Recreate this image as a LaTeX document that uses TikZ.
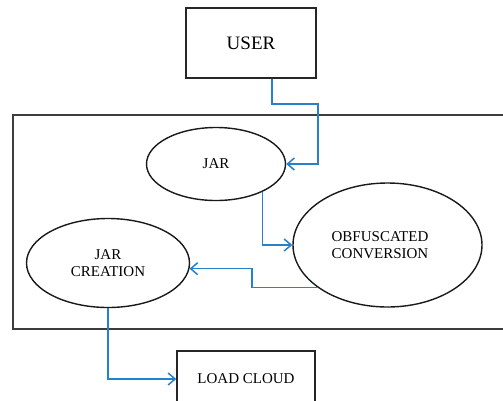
\documentclass[tikz,border=0pt]{standalone}
\usepackage{fontspec}
\setmainfont{Liberation Serif}
\usetikzlibrary{arrows.meta,shapes.geometric}
\definecolor{flowblue}{RGB}{38,128,202}
\definecolor{framegray}{RGB}{60,60,60}
\tikzset{
  box/.style={draw=black!85, line width=1.5pt, rectangle, inner sep=0pt},
  blob/.style={draw=black!90, line width=1.4pt, ellipse, inner sep=0pt},
  bigframe/.style={draw=framegray, line width=2pt, rectangle, inner sep=0pt},
  lbl/.style={font=\fontsize{15}{17}\selectfont, align=center, inner sep=0pt},
  flow/.style={draw=flowblue, line width=1.5pt, -{Straight Barb[length=7pt,width=12pt,line width=1.5pt]}},
}
\begin{document}
\begin{tikzpicture}[x=1pt,y=-1pt]
  \useasboundingbox (0,0) rectangle (503,400);
  \clip (0,0) rectangle (503,400);

  % outer frame holding the processing steps
  \node[bigframe, minimum width=500pt, minimum height=214pt] (frame) at (263,222) {};

  % boxes
  \node[box, minimum width=130pt, minimum height=70pt, font=\fontsize{19}{22}\selectfont] (user) at (251,43) {USER};
  \node[box, minimum width=138pt, minimum height=56pt, font=\fontsize{15}{17}\selectfont] (load) at (246,379) {LOAD CLOUD};

  % ellipses
  \node[blob, minimum width=139pt, minimum height=73pt, lbl] (jar) at (216,164) {JAR};
  \node[blob, minimum width=189pt, minimum height=124pt] (obf) at (387.5,245) {};
  \node[lbl] (obftext) at (380,245) {OBFUSCATED\\CONVERSION};
  \node[blob, minimum width=163pt, minimum height=89pt, lbl] (jarc) at (108,263) {JAR\\CREATION};

  % bend points of the connectors
  \coordinate (k1) at (318,104);
  \coordinate (k2) at (252,0);

  % connectors
  \draw[flow] ([xshift=21pt]user.south) |- (k1) |- (jar.east);
  \draw[flow] (jar.-31) |- (obf.west);
  \draw[flow] (obf.211) -- (obf.211 -| k2) |- (jarc.-4);
  \draw[flow] (jarc.south) |- (load.west);
\end{tikzpicture}
\end{document}
